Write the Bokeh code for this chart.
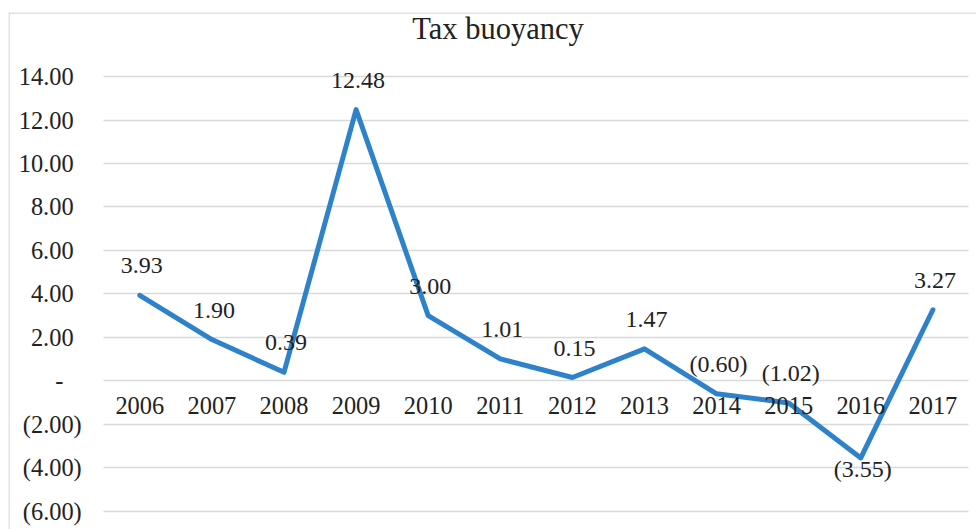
from bokeh.plotting import figure
from bokeh.models import Range1d, FixedTicker, Label, ColumnDataSource, Span
from bokeh.core.properties import value
from bokeh.embed import file_html
from bokeh.resources import INLINE

# ---- data -------------------------------------------------------------
title_text = "Tax buoyancy"
years = ["2006", "2007", "2008", "2009", "2010", "2011",
         "2012", "2013", "2014", "2015", "2016", "2017"]
buoyancy = [3.93, 1.90, 0.39, 12.48, 3.00, 1.01,
            0.15, 1.47, -0.60, -1.02, -3.55, 3.27]
y_ticks = [14, 12, 10, 8, 6, 4, 2, 0, -2, -4, -6]
y_tick_labels = ["14.00", "12.00", "10.00", "8.00", "6.00", "4.00",
                 "2.00", "-", "(2.00)", "(4.00)", "(6.00)"]
labels_below = ["2016"]

# ---- styling ----------------------------------------------------------
FONT = "Liberation Serif"
TXT = "#222222"
GRID = "#D9D9D9"
LINE = "#2E82C9"


def fmt(v):
    return f"({abs(v):.2f})" if v < 0 else f"{v:.2f}"


def pad(lbl):
    # Excel accounting-style alignment
    if lbl.startswith("("):
        return lbl
    if lbl == "-":
        return lbl + "\u2002\u2005"
    return lbl + "\u2004"


xs = list(range(len(years)))
src = ColumnDataSource(dict(
    x=xs,
    y=buoyancy,
    label=[fmt(v) for v in buoyancy],
    dy=[11 if yr in labels_below else -29.5 for yr in years],
))

# pixel geometry of the reference -> ranges
x0_px, dx_px = 139.3, 72.1
y0_px, dy_px = 380.3, 21.73
left_px, top_px, W, H = 8, 12, 976, 529

p = figure(width=W, height=H, output_backend="svg", toolbar_location=None,
           x_range=Range1d((left_px - x0_px) / dx_px, (W - x0_px) / dx_px),
           y_range=Range1d((y0_px - H) / dy_px, (y0_px - top_px) / dy_px),
           min_border_left=left_px, min_border_top=top_px,
           min_border_right=0, min_border_bottom=0)

p.background_fill_color = "white"
p.border_fill_color = "white"
p.outline_line_color = None

# chart-area border (left and top edges; the rest lies outside the picture)
p.add_layout(Span(location=0.5, location_units="screen", dimension="height",
                  line_color=GRID, line_width=1.5))
p.add_layout(Span(location=H - top_px - 0.5, location_units="screen",
                  dimension="width", line_color=GRID, line_width=1.5))

yticker = FixedTicker(ticks=y_ticks)
xticker = FixedTicker(ticks=xs)

yax = p.yaxis[0]
yax.fixed_location = -0.5
yax.ticker = yticker
yax.major_label_overrides = {float(t): pad(l) for t, l in zip(y_ticks, y_tick_labels)}
yax.axis_line_color = None
yax.major_tick_line_color = None
yax.minor_tick_line_color = None
yax.major_tick_out = 0
yax.major_tick_in = 0
yax.major_label_standoff = 22
yax.major_label_text_font = FONT
yax.major_label_text_font_size = "24.4px"
yax.major_label_text_color = TXT

xax = p.xaxis[0]
xax.fixed_location = 0
xax.ticker = xticker
xax.major_label_overrides = {float(i): y for i, y in zip(xs, years)}
xax.axis_line_color = None
xax.major_tick_line_color = None
xax.minor_tick_line_color = None
xax.major_tick_out = 0
xax.major_tick_in = 0
xax.major_label_standoff = 16
xax.major_label_text_font = FONT
xax.major_label_text_font_size = "24.4px"
xax.major_label_text_color = TXT

p.xgrid.visible = False
p.ygrid.ticker = yticker
p.ygrid.grid_line_color = GRID
p.ygrid.grid_line_width = 1.5
p.ygrid.cross_bounds = (-0.5, len(years) - 0.5)

p.line(x="x", y="y", source=src, line_color=LINE, line_width=5,
       line_join="round", line_cap="round")

p.text(x="x", y="y", text="label", source=src, y_offset="dy", x_offset=2,
       text_align="center", text_baseline="middle",
       text_font=value(FONT), text_font_size="24px", text_color=TXT)

p.add_layout(Label(x=489.5, y=H - 28, x_units="screen", y_units="screen",
                   text=title_text, text_align="center", text_baseline="middle",
                   text_font=FONT, text_font_size="30.5px", text_color=TXT))

open("out.html", "w").write(file_html(p, INLINE))
